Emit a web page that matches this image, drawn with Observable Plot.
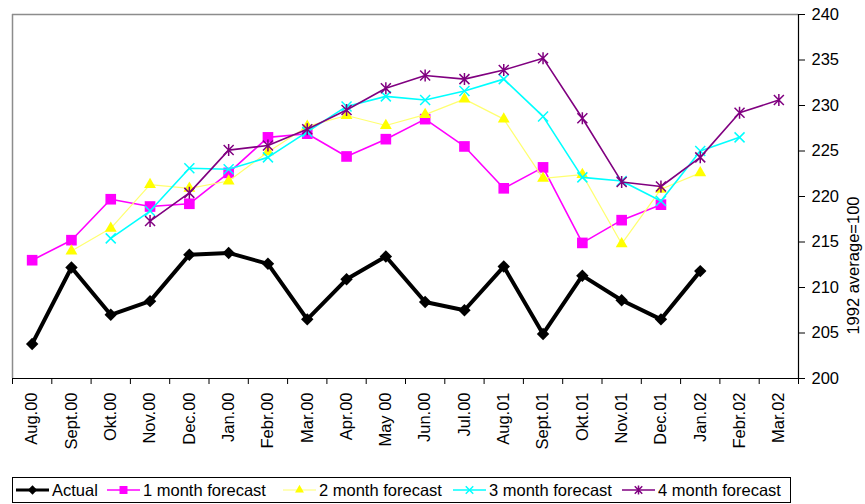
<!DOCTYPE html>
<html><head><meta charset="utf-8">
<script src="https://cdn.jsdelivr.net/npm/d3@7"></script>
<script src="https://cdn.jsdelivr.net/npm/@observablehq/plot@0.6"></script>
<style>
body{margin:0;background:#fff;font-family:"Liberation Sans",Arial,sans-serif;}
#wrap{position:relative;width:865px;height:504px;overflow:hidden;}
#legend{position:absolute;left:12px;top:477px;width:777px;height:24px;border:1px solid #000;background:#fff;}
.item{position:absolute;top:0;height:24px;display:flex;align-items:center;font-size:16.5px;color:#000;white-space:nowrap;}
.item svg{display:block;margin-right:3px;}
</style></head><body><div id="wrap"><div id="chart"></div><div id="legend"></div></div>
<script>
const months = ["Aug.00","Sept.00","Okt.00","Nov.00","Dec.00","Jan.00","Febr.00","Mar.00","Apr.00","May 00","Jun.00","Jul.00","Aug.01","Sept.01","Okt.01","Nov.01","Dec.01","Jan.02","Febr.02","Mar.02"];
const actual = [203.8,212.2,207.0,208.5,213.6,213.8,212.6,206.5,210.9,213.4,208.4,207.5,212.3,204.9,211.3,208.6,206.5,211.8,null,null];
const forecast1 = [213.0,215.2,219.7,218.9,219.2,222.6,226.5,226.9,224.4,226.3,228.5,225.5,220.9,223.2,214.9,217.4,219.1,null,null,null];
const forecast2 = [null,214.0,216.5,221.3,220.9,221.7,224.9,227.7,228.9,227.8,229.0,230.7,228.5,222.0,222.4,214.8,220.8,222.6,null,null];
const forecast3 = [null,null,215.4,218.4,223.1,223.0,224.3,227.1,229.9,231.0,230.6,231.6,232.9,228.8,222.1,221.7,219.5,225.0,226.5,null];
const forecast4 = [null,null,null,217.3,220.4,225.1,225.6,227.4,229.5,231.9,233.3,232.9,233.9,235.2,228.6,221.6,221.1,224.3,229.2,230.6];
const seriesNames = ["Actual","1 month forecast","2 month forecast","3 month forecast","4 month forecast"];
const yTicks = [200,205,210,215,220,225,230,235,240];

const symX = {draw(ctx, size){const r=Math.sqrt(size/Math.PI);ctx.moveTo(-r,-r);ctx.lineTo(r,r);ctx.moveTo(r,-r);ctx.lineTo(-r,r);}};
const symStar = {draw(ctx, size){const r=Math.sqrt(size/Math.PI);ctx.moveTo(-r,-r);ctx.lineTo(r,r);ctx.moveTo(r,-r);ctx.lineTo(-r,r);ctx.moveTo(0,-r*1.2);ctx.lineTo(0,r*1.2);}};

const styles = [
  {values: actual, line:"#000", width:4, symbol:"diamond2", r:5.6, fill:"#000", stroke:"none"},
  {values: forecast1, line:"#ff00ff", width:1.6, symbol:"square", r:6, fill:"#ff00ff", stroke:"none"},
  {values: forecast2, line:"#ffff70", width:1.2, symbol:"triangle", r:4.4, fill:"#ffff00", stroke:"none"},
  {values: forecast3, line:"#00ffff", width:1.6, symbol:symX, r:5, fill:"none", stroke:"#00ffff"},
  {values: forecast4, line:"#800080", width:1.6, symbol:symStar, r:5, fill:"none", stroke:"#800080"}
];

const rows = [];
styles.forEach((s, k) => s.values.forEach((v, i) => rows.push({series: seriesNames[k], i, month: months[i], v})));

const H = 470, bottomY = 378;
const seriesMarks = styles.flatMap((s, k) => {
  const data = rows.filter(d => d.series === seriesNames[k] && d.v != null);
  return [
    Plot.line(data, {x:"i", y:"v", stroke:s.line, strokeWidth:s.width, strokeLinejoin:"miter"}),
    Plot.dot(data, {x:"i", y:"v", symbol:()=>s.symbol, r:s.r, fill:s.fill, stroke:s.stroke, strokeWidth:1.5})
  ];
});

const chart = Plot.plot({
  width: 865, height: H,
  marginLeft: 12, marginRight: 67, marginTop: 14, marginBottom: H - bottomY,
  style: {fontFamily: "'Liberation Sans', Arial, sans-serif", fontSize: "16.5px", color: "#000", background: "#fff", overflow: "visible"},
  x: {type: "linear", domain: [-0.5, months.length - 0.5], label: null},
  y: {domain: [200, 240], label: null},
  symbol: {type: "identity"},
  marks: [
    Plot.ruleX([-0.5], {stroke: "#8c8c8c", strokeWidth: 1.5}),
    Plot.ruleY([240], {stroke: "#8c8c8c", strokeWidth: 1.5}),
    Plot.axisX(d3.range(-0.5, months.length), {tickSize: 6, tickFormat: () => "", strokeOpacity: 1}),
    Plot.axisX(d3.range(months.length), {tickSize: 0, tickPadding: 14, rotate: -90, textAnchor: "end", lineAnchor: "middle", tickFormat: i => months[i], fontSize: 16.5}),
    Plot.axisY(yTicks, {anchor: "right", tickSize: 6, tickPadding: 7, fontSize: 16.5, strokeOpacity: 1}),
    Plot.ruleY([200], {stroke: "#000", strokeWidth: 1.2}),
    Plot.ruleX([months.length - 0.5], {stroke: "#000", strokeWidth: 1.2}),
    Plot.text(["1992 average=100"], {text: d => d, frameAnchor: "right", dx: 55, rotate: -90, fontSize: 16.5}),
    ...seriesMarks
  ]
});
document.getElementById("chart").appendChild(chart);

// legend
const legendX = [3, 94, 270, 440, 609];
const leg = document.getElementById("legend");
styles.forEach((s, k) => {
  const div = document.createElement("div");
  div.className = "item";
  div.style.left = legendX[k] + "px";
  const svg = d3.create("svg").attr("width", 33).attr("height", 20);
  svg.append("line").attr("x1", 0).attr("x2", 33).attr("y1", 10).attr("y2", 10).attr("stroke", s.line).attr("stroke-width", Math.min(s.width, 3));
  const typ = typeof s.symbol === "string" ? {diamond2: d3.symbolDiamond2, square: d3.symbolSquare, triangle: d3.symbolTriangle}[s.symbol] : s.symbol;
  const lr = s.r * 0.75;
  svg.append("path").attr("transform", "translate(16.5,10)").attr("d", d3.symbol(typ, lr * lr * Math.PI)()).attr("fill", s.fill).attr("stroke", s.stroke).attr("stroke-width", 1.5);
  div.appendChild(svg.node());
  const span = document.createElement("span");
  span.textContent = seriesNames[k];
  div.appendChild(span);
  leg.appendChild(div);
});
</script>
</body></html>
